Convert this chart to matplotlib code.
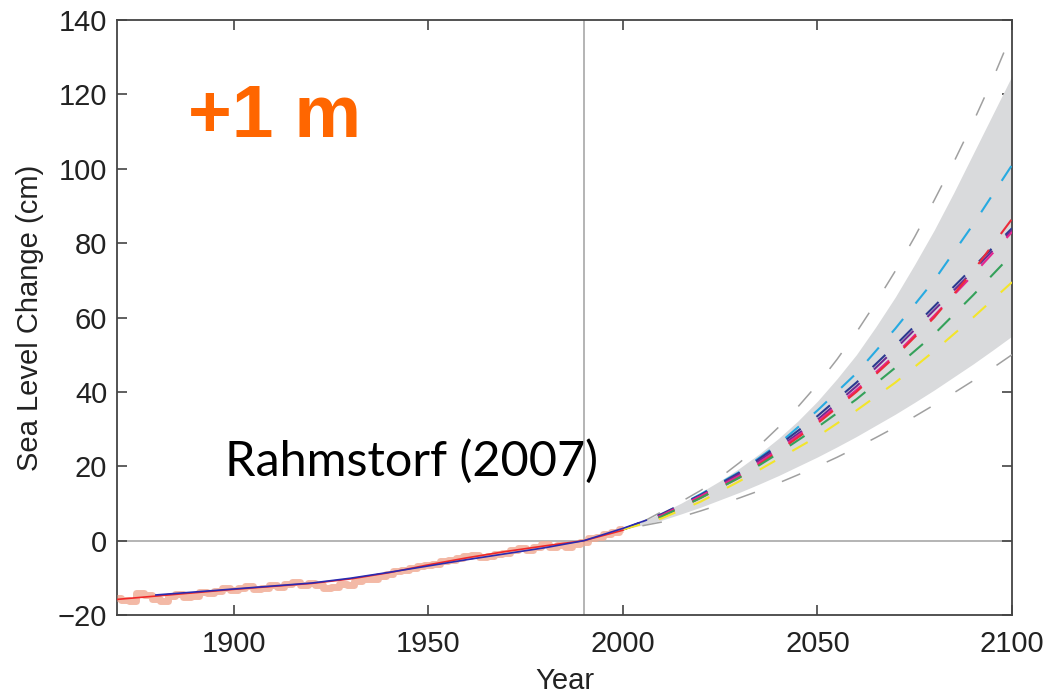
"""
Sea level change: observations, semi-empirical fit and projections to 2100
(Rahmstorf 2007 style figure).
"""

import matplotlib
matplotlib.use("Agg")
import matplotlib.pyplot as plt

# observed sea level (cm), every 2 years
obs_years = list(range(1870, 2002, 2))
obs_level = [-15.5, -16.0, -16.3, -14.2, -14.6, -15.8, -16.2, -15.0, -14.4, -15.2,
             -14.8, -13.8, -14.2, -13.6, -12.8, -13.4, -12.6, -12.2, -13.0, -12.6,
             -12.0, -12.4, -11.6, -11.2, -11.9, -11.4, -12.0, -12.6, -12.4, -11.6,
             -11.8, -10.8, -10.4, -10.2, -9.4, -9.0, -8.2, -8.0, -7.4, -6.8,
             -6.6, -6.4, -5.6, -5.2, -4.6, -4.2, -3.8, -4.4, -4.0, -3.6,
             -3.4, -2.6, -2.0, -2.6, -1.6, -1.0, -1.6, -1.2, -1.8, -0.8,
             -0.4, 0.6, 1.0, 1.8, 2.4, 3.2]

# smoothed observations (red) and model fit (blue)
fit_years = [1870, 1880, 1890, 1900, 1910, 1920, 1930, 1940, 1950, 1960, 1970, 1980, 1990, 2000]
red_level = [-15.8, -14.9, -14.0, -13.1, -12.3, -11.5, -10.3, -8.6, -6.5, -4.6, -2.9, -1.4, 0.0, 2.8]
blue_years = [1880, 1890, 1900, 1910, 1920, 1930, 1940, 1950, 1960, 1970, 1980, 1990, 2000, 2006]
blue_level = [-14.6, -13.8, -13.0, -12.2, -11.4, -10.1, -8.5, -6.8, -5.1, -3.5, -1.9, 0.0, 3.3, 5.5]

# uncertainty band, 2000-2100 every 5 years
band_years = list(range(2000, 2105, 5))
band_lo = [3, 4.2, 5.5, 7.2, 9, 11, 13, 15.2, 17.5, 20, 22.5,
           25.2, 28, 31, 34, 37.2, 40.5, 44, 47.5, 51.2, 55]
band_hi = [3, 5.1, 7.5, 10.1, 13, 16.1, 19.5, 23.3, 27.5, 32.2, 37.5,
           43.5, 50, 57.5, 65.5, 74.3, 83.5, 93.5, 104, 114.5, 125]

# outer range (grey dashed), 2005-2100 every 5 years
outer_years = list(range(2005, 2105, 5))
outer_lo = [4, 5, 6.4, 8, 9.7, 11.5, 13.4, 15.5, 17.7, 20,
            22.4, 25, 27.7, 30.5, 33.4, 36.5, 39.7, 43, 46.4, 50]
outer_hi = [5, 7.8, 10.5, 13.5, 17, 21, 25.5, 30.5, 36, 42,
            48.7, 56, 64, 72.5, 81.7, 91.5, 101.7, 112.5, 124, 136.5]

# emission scenarios, 2000-2100 every 10 years
proj_years = [2000, 2010, 2020, 2030, 2040, 2050, 2060, 2070, 2080, 2090, 2100]
scenarios = {
    "cyan":   ([3, 7, 12.5, 18.5, 26, 35, 45, 57, 70, 85, 101], "#27aae1"),
    "navy":   ([3, 7.2, 12.3, 18.3, 25.6, 33.5, 42.5, 52.5, 63, 73.5, 84], "#2b3990"),
    "purple": ([3, 7, 12, 18, 25, 32.5, 41.5, 51.5, 62, 72.5, 83.5], "#6b2c91"),
    "pink":   ([3, 6.8, 12, 17.5, 24.5, 32, 40.5, 50, 60.5, 71.5, 83], "#e5258e"),
    "red":    ([3, 6.5, 11.5, 17, 24, 31.5, 40, 49.5, 60, 72.5, 86.5], "#ec2a3a"),
    "green":  ([3, 6.5, 11.5, 17, 23.5, 30.5, 38, 46.5, 55.5, 66, 77], "#34a15a"),
    "yellow": ([3, 6, 10.5, 16, 22, 28, 35, 42.5, 51, 60, 69.5], "#f3e52a"),
}

xticks = [1900, 1950, 2000, 2050, 2100]
yticks = [-20, 0, 20, 40, 60, 80, 100, 120, 140]

plt.rcParams["font.family"] = ["Liberation Sans", "DejaVu Sans"]

fig = plt.figure(figsize=(10.43, 6.94), dpi=100)
ax = fig.add_axes([0.1122, 0.1138, 0.8581, 0.8574])

# reference lines
ax.axhline(0, color="#a8a8a8", lw=1.2, zorder=1)
ax.axvline(1990, color="#a8a8a8", lw=1.2, zorder=1)

# uncertainty band and outer range
ax.fill_between(band_years, band_lo, band_hi, color="#d9dadc", lw=0, zorder=2)
ax.plot(outer_years, outer_hi, color="#a0a0a0", lw=1.1, dashes=(13, 19), zorder=3)
ax.plot(outer_years, outer_lo, color="#a0a0a0", lw=1.1, dashes=(13, 19), zorder=3)

for name, (vals, col) in scenarios.items():
    ax.plot(proj_years, vals, color=col, lw=1.5, dashes=(8.5, 9.5), zorder=4)

# observations and fits
ax.plot(obs_years, obs_level, color="#f0a890", lw=5, alpha=0.8,
        drawstyle="steps-mid", solid_capstyle="butt", zorder=5)
ax.plot(fit_years, red_level, color="#f02828", lw=1.2, zorder=6)
ax.plot(blue_years, blue_level, color="#2a2ab0", lw=1.2, zorder=7)

ax.set_xlim(1870, 2100)
ax.set_ylim(-20, 140)
ax.set_xticks(xticks)
ax.set_yticks(yticks)
ax.set_yticklabels([str(v).replace("-", "\u2212") for v in yticks])

ax.tick_params(direction="in", length=7, width=1.2, colors="#444444",
               labelcolor="#222222", labelsize=21, top=True, right=True)
ax.tick_params(axis="x", pad=11)
ax.tick_params(axis="y", pad=7)
for sp in ax.spines.values():
    sp.set_color("#444444")
    sp.set_linewidth(1.3)

ax.set_xlabel("Year", fontsize=21, color="#222222", labelpad=6)
ax.set_ylabel("Sea Level Change (cm)", fontsize=21, color="#222222", labelpad=10)

fig.text(188 / 1043, 1 - 137 / 694, "+1 m", fontsize=54, fontweight="bold",
         color="#ff6600", ha="left", va="baseline")
fig.text(225 / 1043, 1 - 476 / 694, "Rahmstorf (2007)", fontsize=35,
         family=["Lato", "DejaVu Sans"], color="black", ha="left", va="baseline")

fig.savefig("out.png", dpi=100)
